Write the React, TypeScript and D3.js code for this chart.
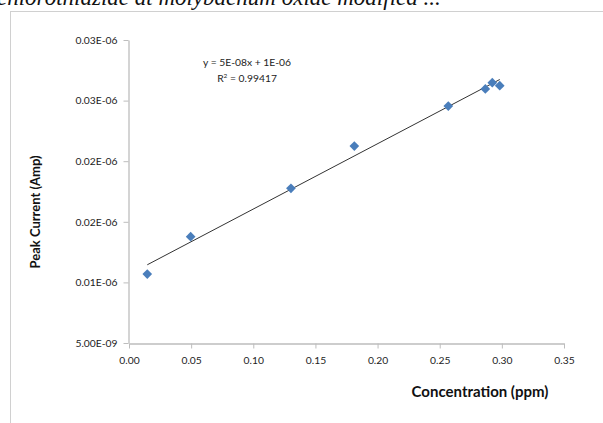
import { useEffect, useRef } from "react"
import * as d3 from "d3"

// concentration (ppm) and peak current (A)
const concentration = [0.0147, 0.0496, 0.1303, 0.1813, 0.2569, 0.2867, 0.2923, 0.2983]
const peakCurrent = [1.069e-8, 1.377e-8, 1.776e-8, 2.125e-8, 2.455e-8, 2.596e-8, 2.648e-8, 2.623e-8]

const xTicks = [0, 0.05, 0.1, 0.15, 0.2, 0.25, 0.3, 0.35]
const yTicks = [5e-9, 1e-8, 1.5e-8, 2e-8, 2.5e-8, 3e-8]
const yTickLabels = ["5.00E-09", "0.01E-06", "0.02E-06", "0.02E-06", "0.03E-06", "0.03E-06"]

const equationText = "y = 5E-08x + 1E-06"
const r2Value = "0.99417"
const headerText = "chlorothiazide at molybdenum oxide modified  ..."

const App = () => {
  const svgRef = useRef<SVGSVGElement>(null)

  useEffect(() => {
    const svg = d3.select(svgRef.current)
    svg.selectAll("*").remove()

    const font = "Lato, 'Open Sans', sans-serif"
    const x = d3.scaleLinear().domain([0, 0.35]).range([129, 564])
    const y = d3.scaleLinear().domain([5e-9, 3e-8]).range([343, 40])

    // cropped caption from the page above the figure
    svg.append("text")
      .attr("x", -3)
      .attr("y", 5)
      .attr("font-family", "'Liberation Serif', 'Times New Roman', serif")
      .attr("font-style", "italic")
      .attr("font-size", 23)
      .attr("fill", "#111")
      .text(headerText)

    // chart frame (runs off the image on right/bottom)
    svg.append("rect")
      .attr("x", 10.5)
      .attr("y", 11.5)
      .attr("width", 700)
      .attr("height", 500)
      .attr("fill", "#fff")
      .attr("stroke", "#d0d0d0")

    const xAxis = svg.append("g")
      .attr("transform", `translate(0, ${y(5e-9) + 0.5})`)
      .call(d3.axisBottom(x).tickValues(xTicks).tickFormat(d3.format(".2f")).tickSize(5).tickSizeOuter(0).tickPadding(8))
    const yAxis = svg.append("g")
      .attr("transform", `translate(${x(0) - 0.5}, 0)`)
      .call(d3.axisLeft(y).tickValues(yTicks).tickFormat((d, i) => yTickLabels[i]).tickSize(5).tickSizeOuter(0).tickPadding(6))

    ;[xAxis, yAxis].forEach(ax => {
      ax.select(".domain").attr("stroke", "#bdbdbd").attr("stroke-width", 1.3)
      ax.selectAll(".tick line").attr("stroke", "#bdbdbd")
      ax.selectAll(".tick text")
        .attr("font-family", font)
        .attr("font-size", 10.3)
        .attr("fill", "#222")
    })

    // least squares trendline
    const n = concentration.length
    const mx = d3.mean(concentration)!
    const my = d3.mean(peakCurrent)!
    const slope = d3.sum(concentration, (c, i) => (c - mx) * (peakCurrent[i] - my)) /
      d3.sum(concentration, c => (c - mx) ** 2)
    const intercept = my - slope * mx
    const [x0, x1] = d3.extent(concentration) as [number, number]
    const line = d3.line<number>().x(d => x(d)).y(d => y(slope * d + intercept))
    svg.append("path")
      .datum([x0, x1])
      .attr("fill", "none")
      .attr("stroke", "#333")
      .attr("stroke-width", 1)
      .attr("d", line)

    const diamond = d3.symbol().type(d3.symbolDiamond2).size(60)
    svg.append("g")
      .selectAll("path")
      .data(d3.range(n))
      .enter()
      .append("path")
      .attr("transform", i => `translate(${x(concentration[i])}, ${y(peakCurrent[i])})`)
      .attr("d", diamond)
      .attr("fill", "#4a7ebb")

    const eq = svg.append("text")
      .attr("x", 247)
      .attr("y", 66)
      .attr("text-anchor", "middle")
      .attr("font-family", font)
      .attr("font-size", 10.3)
      .attr("fill", "#222")
    eq.append("tspan").attr("x", 247).text(equationText)
    const r2 = eq.append("tspan").attr("x", 247).attr("dy", 15.5).text("R")
    r2.append("tspan").attr("font-size", 6.5).attr("dy", -4).text("2")
    r2.append("tspan").attr("dy", 4).text(` = ${r2Value}`)

    svg.append("text")
      .attr("transform", "translate(40, 212) rotate(-90)")
      .attr("text-anchor", "middle")
      .attr("font-family", font)
      .attr("font-weight", "bold")
      .attr("font-size", 13)
      .attr("fill", "#111")
      .text("Peak Current (Amp)")

    svg.append("text")
      .attr("x", 480)
      .attr("y", 397)
      .attr("text-anchor", "middle")
      .attr("font-family", font)
      .attr("font-weight", "bold")
      .attr("font-size", 15)
      .attr("fill", "#111")
      .text("Concentration (ppm)")
  }, [])

  return (
    <svg ref={svgRef} width={603} height={423}
      style={{ position: "absolute", top: 0, left: 0, background: "#fff" }} />
  )
}

export default App
